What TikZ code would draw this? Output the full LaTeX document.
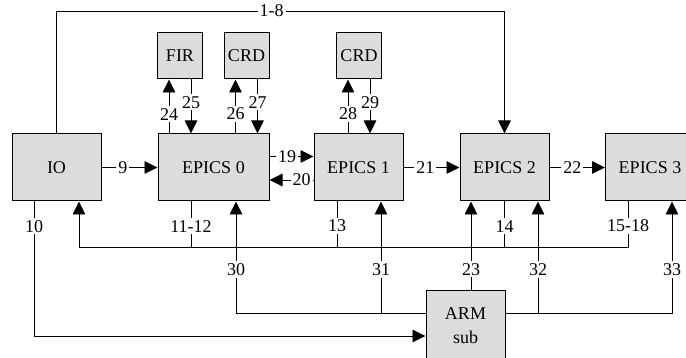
\documentclass[tikz,border=0pt]{standalone}
\usepackage{fontspec}
\setmainfont{Liberation Serif}
\usetikzlibrary{arrows.meta}
\definecolor{boxgray}{RGB}{220,220,220}
\begin{document}
\begin{tikzpicture}[
    x=1pt,y=-1pt,
    font=\fontsize{18}{24}\selectfont,
    blk/.style={draw,line width=1pt,fill=boxgray,inner sep=0pt,
                minimum width=89pt,minimum height=67pt},
    sml/.style={blk,minimum width=45pt,minimum height=46pt},
    lnk/.style={line width=0.9pt},
    arr/.style={lnk,-{Triangle[length=13pt,width=12.5pt]}},
    lbl/.style={fill=white,inner sep=2pt}]

  \useasboundingbox (0,0) rectangle (686,358);

  % blocks
  \node[blk] (io) at (56.5,167.5) {IO};
  \node[blk,minimum width=111pt] (e0) at (213.5,167.5) {EPICS 0};
  \node[blk] (e1) at (358.5,167.5) {EPICS 1};
  \node[blk] (e2) at (504.5,167.5) {EPICS 2};
  \node[blk] (e3) at (650,167.5)   {EPICS 3};

  \node[sml] (fir)  at (180,56)   {FIR};
  \node[sml] (crd0) at (246.5,56) {CRD};
  \node[sml] (crd1) at (359,56)   {CRD};

  \node[blk,minimum width=79pt,minimum height=69pt,align=center]
       (arm) at (465.5,325.5) {ARM\\sub};

  % rows of the wiring
  \coordinate (top) at (0,11);
  \coordinate (bus) at (0,247);
  \coordinate (a30) at ([yshift=12.5pt]arm.west);
  \coordinate (b32) at ([yshift=12.5pt]arm.east);
  \coordinate (a10) at ([yshift=-10.5pt]arm.west);

  % taps under the blocks
  \coordinate (t10) at ([xshift=-22.5pt]io.south);
  \coordinate (tio) at ([xshift= 22.5pt]io.south);
  \coordinate (t11) at ([xshift=-22.5pt]e0.south);
  \coordinate (t30) at ([xshift= 22.5pt]e0.south);
  \coordinate (t13) at ([xshift=-21.5pt]e1.south);
  \coordinate (t31) at ([xshift= 22.5pt]e1.south);
  \coordinate (t23) at ([xshift=-33.5pt]e2.south);
  \coordinate (t14) at (e2.south);
  \coordinate (t32) at ([xshift= 33.5pt]e2.south);
  \coordinate (t15) at ([xshift=-22pt]e3.south);
  \coordinate (t33) at ([xshift= 22pt]e3.south);

  % IO to EPICS 2 over the top
  \draw[arr] (io.north) |- node[lbl,pos=0.74] {1-8} (top -| e2.north)
             -- (e2.north);

  % chain
  \draw[arr] (io) -- node[lbl,pos=0.38] {9} (e0);
  \draw[arr] ([yshift=11pt]e0.east) -- node[lbl,pos=0.4] {19}
             ([yshift=11pt]e1.west);
  \draw[arr] ([yshift=-12.5pt]e1.west) -- node[lbl,pos=0.27] {20}
             ([yshift=-12.5pt]e0.east);
  \draw[arr] (e1) -- node[lbl,pos=0.39] {21} (e2);
  \draw[arr] (e2) -- node[lbl,pos=0.41] {22} (e3);

  % small blocks on top
  \foreach \blk/\up/\dn in {fir/24/25,crd0/26/27,crd1/28/29}{
    \coordinate (u) at ([xshift=-11pt]\blk.south);
    \coordinate (d) at ([xshift= 11pt]\blk.south);
    \draw[arr] (u |- e0.north) -- node[lbl,pos=0.36] {\up} (u);
    \draw[arr] (d) -- node[lbl,pos=0.42] {\dn} (d |- e0.north);
  }

  % return bus to IO
  \draw[arr] (t15) -- node[lbl,pos=0.54] {15-18} (t15 |- bus)
             -- (tio |- bus) -- (tio);
  \draw[lnk] (t11) -- node[lbl,pos=0.54] {11-12} (t11 |- bus);
  \draw[lnk] (t13) -- node[lbl,pos=0.54] {13} (t13 |- bus);
  \draw[lnk] (t14) -- node[lbl,pos=0.54] {14} (t14 |- bus);

  % IO to ARM
  \draw[arr] (t10) -- node[lbl,pos=0.185] {10} (t10 |- a10) -- (a10);

  % ARM to the EPICS blocks
  \draw[arr] (a30) -- (t30 |- a30) -- node[lbl,pos=0.39] {30} (t30);
  \draw[arr] (t31 |- a30) -- node[lbl,pos=0.39] {31} (t31);
  \draw[arr] (t23 |- arm.north) -- node[lbl,pos=0.24] {23} (t23);
  \draw[arr] (b32) -- (t33 |- b32) -- node[lbl,pos=0.39] {33} (t33);
  \draw[arr] (t32 |- b32) -- node[lbl,pos=0.39] {32} (t32);

\end{tikzpicture}
\end{document}
